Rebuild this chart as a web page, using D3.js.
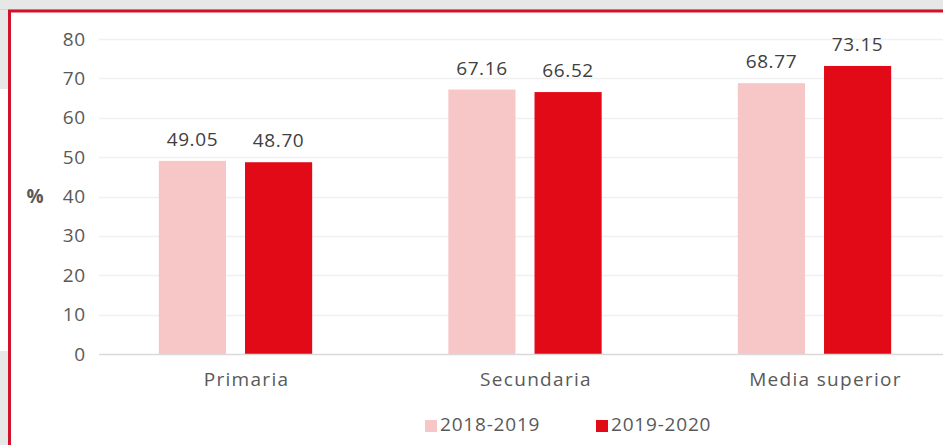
<!DOCTYPE html>
<html><head><meta charset="utf-8">
<script src="https://cdn.jsdelivr.net/npm/d3@7"></script>
<style>
body{margin:0;padding:0;background:#fff;}
svg{display:block;font-family:"Open Sans",sans-serif;}
</style></head>
<body>
<svg id="c" width="943" height="445"></svg>
<script>
const categories = ["Primaria","Secundaria","Media superior"];
const seriesNames = ["2018-2019","2019-2020"];
const values2018 = [49.05, 67.16, 68.77];
const values2019 = [48.70, 66.52, 73.15];
const yTicks = [0,10,20,30,40,50,60,70,80];
const colors = ["#f7c6c7","#e30a17"];

const svg = d3.select("#c");
// background framing
svg.append("rect").attr("x",0).attr("y",0).attr("width",943).attr("height",10).attr("fill","#e7e7e7");
svg.append("rect").attr("x",0).attr("y",0).attr("width",9).attr("height",89).attr("fill","#e7e7e7");
svg.append("rect").attr("x",0).attr("y",351).attr("width",9).attr("height",94).attr("fill","#e7e7e7");
svg.append("line").attr("x1",0).attr("x2",943).attr("y1",9.5).attr("y2",9.5).attr("stroke","#d4d4d4").attr("stroke-width",1);
svg.append("path").attr("d","M9.5,460 V11 H960").attr("fill","none").attr("stroke","#d0132d").attr("stroke-width",3);

const y = d3.scaleLinear().domain([0,80]).range([354,39]);
const x0 = d3.scaleBand().domain(categories).range([90.75,959.25]).paddingInner(0).paddingOuter(0);
const x1 = d3.scaleBand().domain(seriesNames).range([0,x0.bandwidth()]).paddingInner(0.221).paddingOuter(0.79);

// gridlines
const g = svg.append("g");
g.selectAll("line.grid").data(yTicks.filter(d=>d>0)).enter().append("line")
 .attr("x1",99).attr("x2",943).attr("y1",d=>Math.round(y(d))+0.5).attr("y2",d=>Math.round(y(d))+0.5)
 .attr("stroke","#f0f0f0").attr("stroke-width",1.5);

// y axis labels
const yAxis = d3.axisLeft(y).tickValues(yTicks).tickSize(0).tickPadding(0);
const ya = svg.append("g").attr("transform","translate(86,0)").call(yAxis);
ya.select(".domain").remove();
ya.selectAll("text").attr("font-size",19).attr("fill","#595959").attr("font-family","Open Sans, sans-serif").style("letter-spacing","0.8px");

const data = categories.map((c,i)=>({cat:c, vals:[{s:seriesNames[0],v:values2018[i]},{s:seriesNames[1],v:values2019[i]}]}));
const groups = svg.selectAll("g.cat").data(data).enter().append("g").attr("transform",d=>`translate(${x0(d.cat)},0)`);
groups.selectAll("rect").data(d=>d.vals).enter().append("rect")
 .attr("x",d=>x1(d.s)).attr("width",x1.bandwidth())
 .attr("y",d=>y(d.v)).attr("height",d=>y(0)-y(d.v))
 .attr("fill",(d,i)=>colors[i]);
groups.selectAll("text").data(d=>d.vals).enter().append("text")
 .attr("x",d=>x1(d.s)+x1.bandwidth()/2).attr("y",d=>y(d.v)-15)
 .attr("text-anchor","middle").attr("font-size",19).attr("fill","#404040").style("letter-spacing","0.6px")
 .text(d=>d.v.toFixed(2));

// baseline
svg.append("line").attr("x1",99).attr("x2",943).attr("y1",354.5).attr("y2",354.5).attr("stroke","#d9d9d9").attr("stroke-width",1.5);

// x labels
const xAxis = d3.axisBottom(x0).tickSize(0).tickPadding(0);
const xa = svg.append("g").attr("transform","translate(11,372)").call(xAxis);
xa.select(".domain").remove();
xa.selectAll("text").attr("font-size",19).attr("fill","#595959").attr("font-family","Open Sans, sans-serif").style("letter-spacing","1.3px");

// % label
svg.append("text").attr("x",35).attr("y",203).attr("text-anchor","middle").attr("font-size",19).attr("font-weight","bold").attr("fill","#595959").text("%");

// legend
const legendX = [425, 596];
const lg = svg.selectAll("g.leg").data(seriesNames).enter().append("g").attr("transform",(d,i)=>`translate(${legendX[i]},0)`);
lg.append("rect").attr("x",0).attr("y",420).attr("width",12).attr("height",12).attr("fill",(d,i)=>colors[i]);
lg.append("text").attr("x",15).attr("y",431).attr("font-size",19).attr("fill","#595959").style("letter-spacing","0.8px").text(d=>d);
</script>
</body></html>
